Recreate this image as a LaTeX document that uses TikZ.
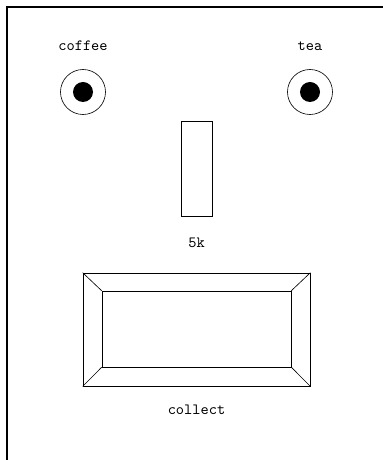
\documentclass[tikz,border=0pt]{standalone}
\usepackage{tikz}

\begin{document}
\begin{tikzpicture}[x=0.64pt, y=0.64pt,
    knob/.style={circle, draw, minimum size=28.8pt, inner sep=0pt},
    lbl/.style={font=\ttfamily}]
  \def\yKnob{368} \def\yBtn{130}
  \clip (0,0) rectangle (383,460);
  \draw[line width=1.3pt] (7,-40) rectangle (430,453);
  \node[knob] (coffee) at (83,\yKnob) {};
  \node[knob] (tea) at (310,\yKnob) {};
  \fill (coffee.center) circle[radius=6.4pt];
  \fill (tea.center) circle[radius=6.4pt];
  \node[lbl] (coffeeLbl) at (83,414) {coffee};
  \node[lbl] (teaLbl) at (310,414) {tea};
  \node[draw, minimum width=19.8pt, minimum height=60.8pt, inner sep=0pt] (slider) at (196.5,291.5) {};
  \node[lbl] (sliderLbl) at (196.5,217) {5k};
  % botao: moldura externa + interna, cantos ligados
  \node[draw, minimum width=145.3pt, minimum height=72.3pt, inner sep=0pt] (btnOut) at (196.5,\yBtn.5) {};
  \node[draw, minimum width=121pt, minimum height=48.6pt, inner sep=0pt] (btnIn) at (196.5,\yBtn.5+0.5) {};
  \foreach \c in {north west,north east,south west,south east}
    \draw (btnOut.\c) -- (btnIn.\c);
  \node[lbl] (btnLbl) at (196.5,50) {collect};
\end{tikzpicture}
\end{document}
